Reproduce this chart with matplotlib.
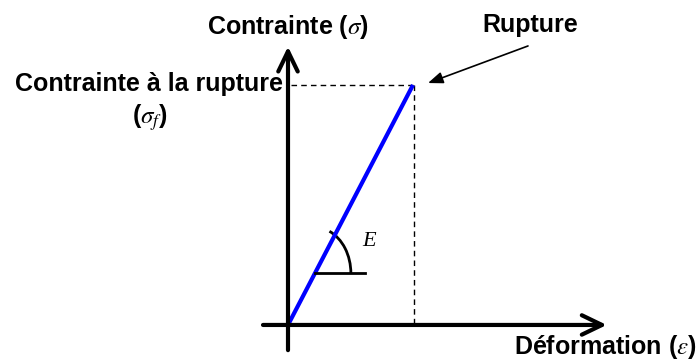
import numpy as np
import matplotlib.pyplot as plt
from matplotlib.patches import Arc

# schematic stress-strain data (brittle material, linear up to rupture)
strain = [0.0, 1.0]      # deformation, normalised to the rupture strain
stress = [0.0, 1.0]      # contrainte, normalised to the rupture stress
strain_f = strain[-1]
stress_f = stress[-1]

plt.rcParams['font.family'] = ['Liberation Sans', 'DejaVu Sans']
plt.rcParams['mathtext.fontset'] = 'stix'

fig = plt.figure(figsize=(7, 3.6), dpi=100)
ax = fig.add_axes([0, 0, 1, 1])
ax.set_xlim(-2.304, 3.296)
ax.set_ylim(-0.146, 1.354)
ax.axis('off')

# axes with arrows
head = '->,head_length=1.45,head_width=0.7'
ax.annotate('', xy=(2.55, 0), xytext=(-0.2, 0),
            arrowprops=dict(arrowstyle=head, lw=3, color='black', shrinkA=0, shrinkB=0))
ax.annotate('', xy=(0, 1.16), xytext=(0, -0.105),
            arrowprops=dict(arrowstyle=head, lw=3, color='black', shrinkA=0, shrinkB=0))

# dashed guides at rupture
ax.plot([0.02, strain_f], [stress_f, stress_f], color='black', lw=1, dashes=(4, 3))
ax.plot([strain_f + 0.01, strain_f + 0.01], [stress_f, 0], color='black', lw=1, dashes=(4, 3))

# the linear curve
ax.plot(strain, stress, color='#0000ff', lw=3, solid_capstyle='butt')

# slope marker E
s0 = 0.215
ax.plot([s0 * strain_f, s0 * strain_f + 0.4], [s0 * stress_f, s0 * stress_f], color='black', lw=2)
ang = np.degrees(np.arctan2(stress_f * 240 / 46, strain_f * 125 / 36))
ax.add_patch(Arc((s0 * strain_f, s0 * stress_f), 2 * 36 / 125, 2 * 46 / 240,
                 theta1=0, theta2=ang, color='black', lw=2))
ax.text(0.648, 0.346, 'E', fontsize=16, style='italic',
        family='Liberation Serif', ha='center', va='center')

# labels
lab = dict(fontsize=18, fontweight='bold', va='center')
ax.text(0.0, 1.24, r'Contrainte ($\sigma$)', ha='center', **lab)
ax.text(-0.04, 1.004, 'Contrainte à la rupture', ha='right', **lab)
ax.text(-1.104, 0.8625, r'($\sigma_f$)', ha='center', **lab)
ax.text(3.27, -0.092, r'Déformation ($\varepsilon$)', ha='right', **lab)
ax.text(1.94, 1.25, 'Rupture', ha='center', **lab)
ax.annotate('', xy=(1.12, 1.008), xytext=(1.92, 1.1625),
            arrowprops=dict(arrowstyle='-|>,head_length=0.9,head_width=0.35', lw=1.2,
                            color='black', shrinkA=0, shrinkB=0))

fig.savefig('out.png', dpi=100)
